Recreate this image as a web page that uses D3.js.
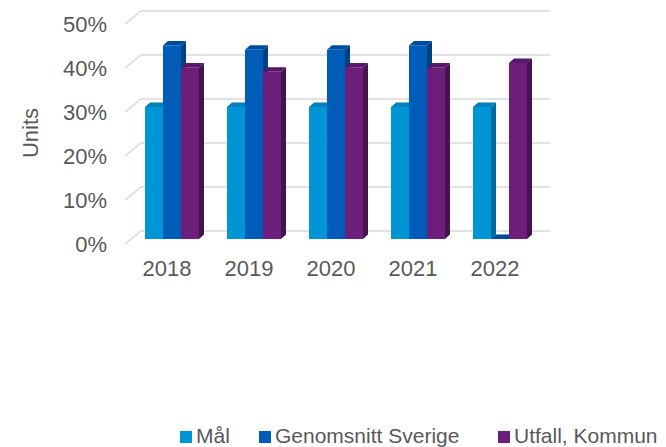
<!DOCTYPE html>
<meta charset="utf-8">
<style>
    body { margin: 0; background: #fff; }
    text { font-family: "Liberation Sans", Arial, sans-serif; fill: #595959; }
</style>
<script src="https://d3js.org/d3.v7.min.js"></script>
<div id="chart"></div>
<script>
    // data
    var years = ["2018", "2019", "2020", "2021", "2022"];
    var seriesNames = ["Mål", "Genomsnitt Sverige", "Utfall, Kommun"];
    var mal = [0.30, 0.30, 0.30, 0.30, 0.30];
    var genomsnitt = [0.44, 0.43, 0.43, 0.44, 0];
    var utfall = [0.39, 0.38, 0.39, 0.39, 0.40];
    var yTicks = [0, 0.1, 0.2, 0.3, 0.4, 0.5];

    var seriesValues = [mal, genomsnitt, utfall];
    var frontCol = ["#0096d6", "#005cb9", "#6b1f7b"];
    var sideCol = ["#006a9e", "#003f80", "#47134f"];
    var topCol = ["#0080bb", "#004c9e", "#58186a"];

    var W = 666, H = 447;
    // depth of the floor (front edge -> back wall) and of one bar
    var floorDx = 16, floorDy = -13;
    var barDx = 5, barDy = -4.5;

    var svg = d3.select("#chart").append("svg")
        .attr("width", W).attr("height", H);

    var x = d3.scaleBand().domain(years).range([125, 535]);
    var xs = d3.scaleBand().domain(d3.range(3)).range([0, 54]);
    var y = d3.scaleLinear().domain([0, 0.5]).range([239, 19]);

    // gridlines: back wall plus slanted left side
    var grid = svg.append("g");
    yTicks.forEach(function(t) {
        var yb = y(t) - 8;
        grid.append("path")
            .attr("d", "M125," + (yb - floorDy) + "L" + (125 + floorDx) + "," + yb + "L550," + yb)
            .attr("fill", "none")
            .attr("stroke", "#d9d9d9")
            .attr("stroke-width", 1.5);
        svg.append("text")
            .attr("x", 107)
            .attr("y", yb - floorDy)
            .attr("text-anchor", "end")
            .attr("dominant-baseline", "central")
            .style("font-size", "22px")
            .text(d3.format(".0%")(t));
    });

    // bars, drawn left to right so each front face covers the previous side face
    var bars = svg.append("g");
    years.forEach(function(yr, i) {
        var gx = x(yr) + (x.bandwidth() - 54) / 2 + 6;
        seriesValues.forEach(function(vals, s) {
            var x0 = gx + xs(s), x1 = x0 + xs.bandwidth();
            var y0 = y(0), y1 = y(vals[i]);
            // side face
            bars.append("path")
                .attr("d", "M" + x1 + "," + y1 + "L" + (x1 + barDx) + "," + (y1 + barDy) +
                    "L" + (x1 + barDx) + "," + (y0 + barDy) + "L" + x1 + "," + y0 + "Z")
                .attr("fill", sideCol[s]);
            // top cap
            bars.append("path")
                .attr("d", "M" + x0 + "," + y1 + "L" + (x0 + barDx) + "," + (y1 + barDy) +
                    "L" + (x1 + barDx) + "," + (y1 + barDy) + "L" + x1 + "," + y1 + "Z")
                .attr("fill", topCol[s]);
            // front face
            bars.append("rect")
                .attr("x", x0)
                .attr("y", y1)
                .attr("width", xs.bandwidth())
                .attr("height", y0 - y1)
                .attr("fill", frontCol[s]);
        });
    });

    // category labels
    svg.append("g").selectAll("text")
        .data(years)
        .enter().append("text")
        .attr("x", function(d) { return x(d) + x.bandwidth() / 2 + 1; })
        .attr("y", 268)
        .attr("text-anchor", "middle")
        .attr("dominant-baseline", "central")
        .style("font-size", "22px")
        .text(function(d) { return d; });

    // axis title
    svg.append("text")
        .attr("transform", "translate(30,133)rotate(-90)")
        .attr("text-anchor", "middle")
        .attr("dominant-baseline", "central")
        .style("font-size", "22px")
        .text("Units");

    // legend
    var legX = [180, 259, 498];
    var legend = svg.append("g").selectAll("g")
        .data(seriesNames)
        .enter().append("g")
        .attr("transform", function(d, i) { return "translate(" + legX[i] + ",443)"; });
    legend.append("rect")
        .attr("x", 0).attr("y", -12)
        .attr("width", 12).attr("height", 12)
        .attr("fill", function(d, i) { return frontCol[i]; });
    legend.append("text")
        .attr("x", 16)
        .attr("y", 0)
        .style("font-size", "21px")
        .text(function(d) { return d; });
</script>
